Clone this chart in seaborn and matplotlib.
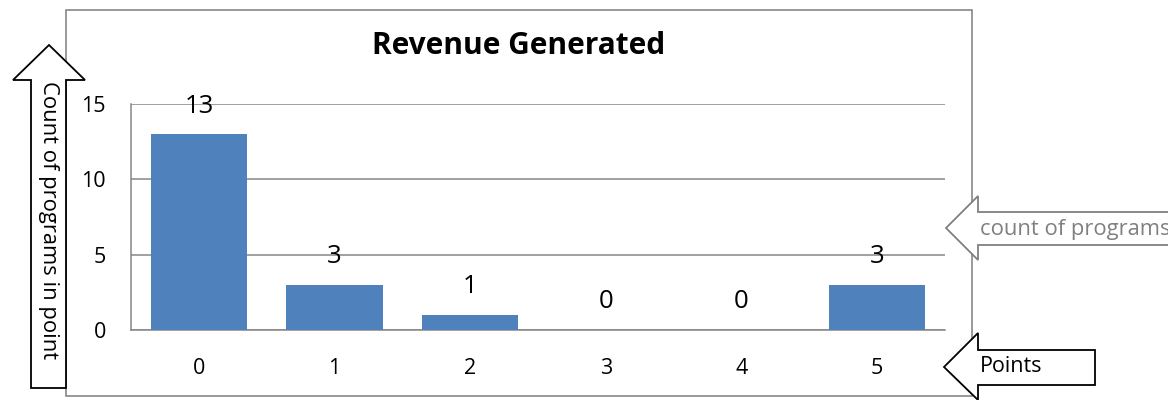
import matplotlib
matplotlib.use("Agg")
import matplotlib.pyplot as plt
from matplotlib.patches import Polygon, Rectangle
import seaborn as sns
import pandas as pd

points = ["0", "1", "2", "3", "4", "5"]
counts = [13, 3, 1, 0, 0, 3]
title = "Revenue Generated"
y_label = "Count of programs in point"
series_label = "count of programs"
x_label = "Points"
y_ticks = [0, 5, 10, 15]

sns.set_theme(style="white")
plt.rcParams['font.family'] = ['Open Sans', 'DejaVu Sans']

W, H = 1168, 400
fig = plt.figure(figsize=(W / 100, H / 100), dpi=100)

def fx(px):
    return px / W

def fy(py):
    return 1 - py / H

# chart border
fig.patches.append(Rectangle((fx(66), fy(396)), fx(972) - fx(66), fy(10) - fy(396),
                             transform=fig.transFigure, fill=False,
                             edgecolor="#878787", lw=1.2, zorder=0))

ax = fig.add_axes([fx(131), fy(330), fx(945) - fx(131), fy(104) - fy(330)])
df = pd.DataFrame({"points": points, "count": counts})
sns.barplot(data=df, x="points", y="count", color="#4F81BD", saturation=1,
            width=0.71, ax=ax, zorder=3, linewidth=0)
ax.set_xlim(-0.5, len(points) - 0.5)
ax.set_ylim(0, 15)
ax.set_yticks(y_ticks)
ax.set_xlabel("")
ax.set_ylabel("")
ax.grid(axis="y", color="#868686", lw=1.1, zorder=0)
ax.grid(axis="x", visible=False)
for s in ["top", "right"]:
    ax.spines[s].set_visible(False)
for s in ["left", "bottom"]:
    ax.spines[s].set_color("#868686")
    ax.spines[s].set_linewidth(1.1)
ax.set_xticks([i - 0.5 for i in range(len(points) + 1)], minor=True)
ax.tick_params(axis="x", which="major", length=0, labelsize=15.5, pad=20, colors="black")
ax.tick_params(axis="x", which="minor", length=7, width=1.1, color="#868686", direction="out")
ax.tick_params(axis="y", which="major", length=7, width=1.1, color="#868686",
               direction="out", labelsize=15.5, pad=11, labelcolor="black")
ax.tick_params(axis="x", labelcolor="black")

for i, v in enumerate(counts):
    ax.annotate(str(v), (i, v), xytext=(0, 28), textcoords="offset pixels",
                ha="center", va="center", fontsize=18.5, color="black", zorder=5)

fig.text(fx(519), fy(46), title, ha="center", va="center", fontsize=21.5,
         fontweight="bold", color="black")

# up arrow (y label)
up = [(31, 388), (31, 80), (13, 80), (49, 45), (85, 80), (66, 80), (66, 388)]
fig.patches.append(Polygon([(fx(x), fy(y)) for x, y in up], closed=True,
                           transform=fig.transFigure, facecolor="white",
                           edgecolor="black", lw=1.3, zorder=4))
fig.text(fx(48), fy(220), y_label, rotation=-90, ha="center", va="center",
         fontsize=15.8, color="black", zorder=5)

# gray left arrow (series)
ga = [(946, 228), (978, 196), (978, 212), (1175, 212), (1175, 245), (978, 245), (978, 260)]
fig.patches.append(Polygon([(fx(x), fy(y)) for x, y in ga], closed=True,
                           transform=fig.transFigure, facecolor="white",
                           edgecolor="#808080", lw=1.3, zorder=4))
fig.text(fx(980), fy(229), series_label, ha="left", va="center",
         fontsize=15.8, color="#808080", zorder=5)

# black left arrow (x label)
pa = [(944, 367), (978, 333), (978, 350), (1095, 350), (1095, 385), (978, 385), (978, 400)]
fig.patches.append(Polygon([(fx(x), fy(y)) for x, y in pa], closed=True,
                           transform=fig.transFigure, facecolor="white",
                           edgecolor="black", lw=1.3, zorder=4))
fig.text(fx(980), fy(367), x_label, ha="left", va="center",
         fontsize=15.5, color="black", zorder=5)

fig.savefig("out.png", dpi=100)
